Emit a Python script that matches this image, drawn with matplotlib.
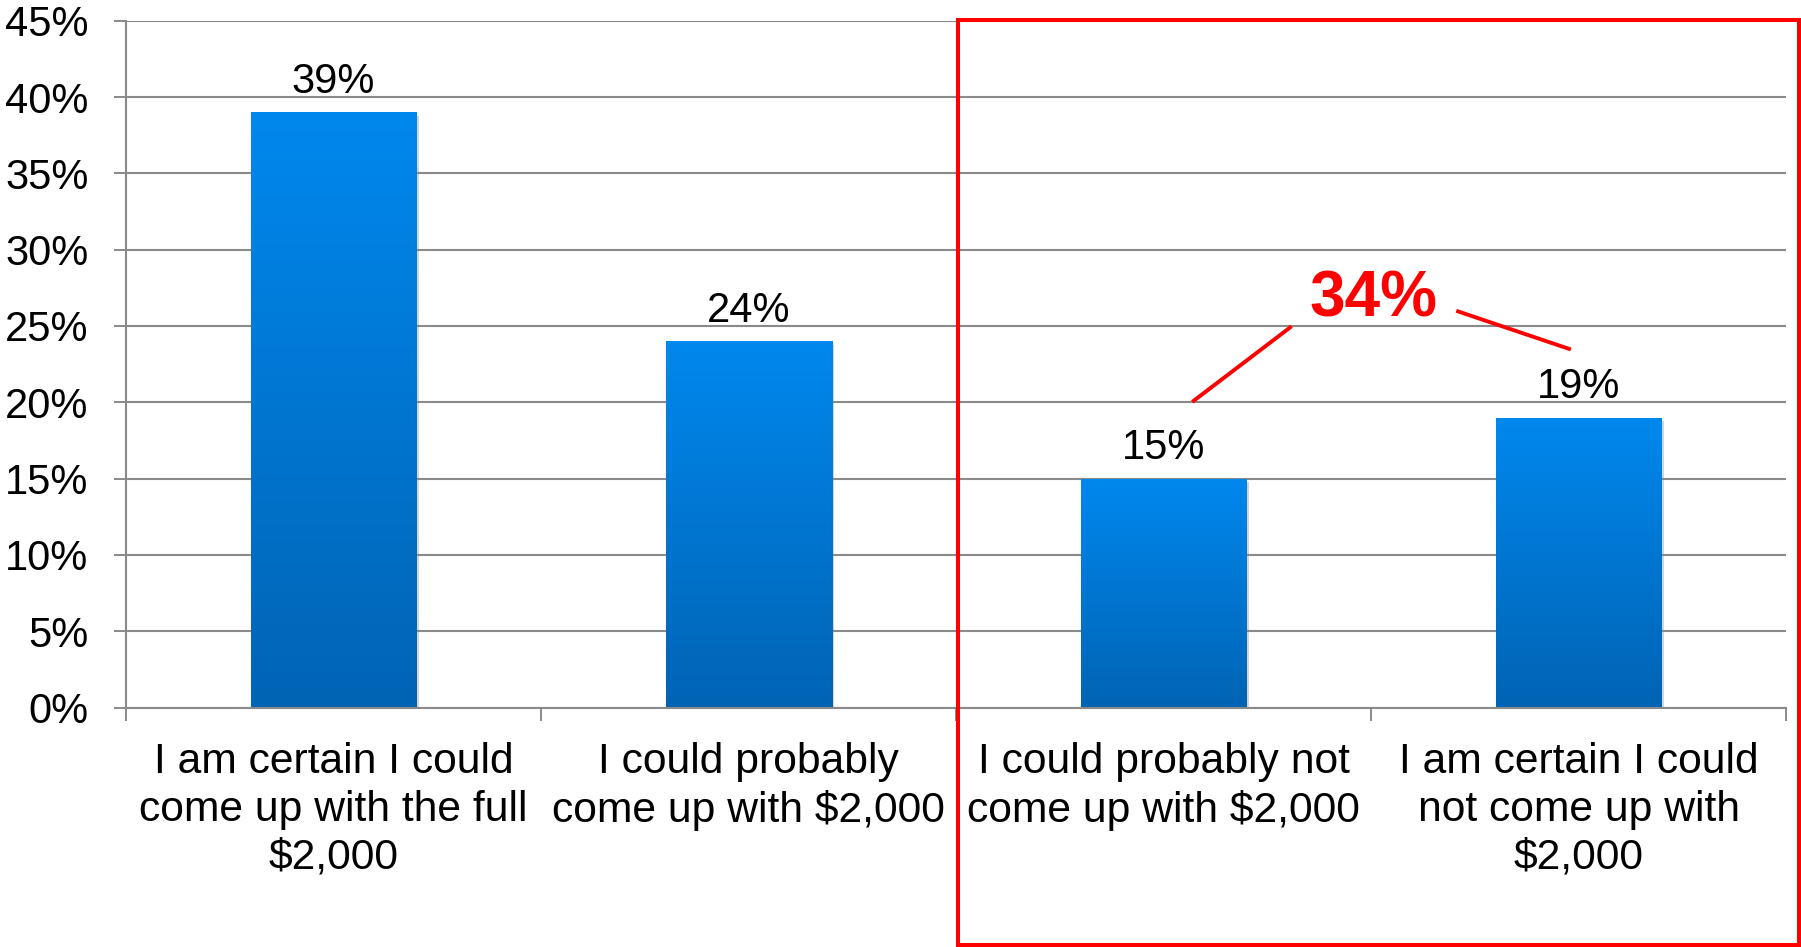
import matplotlib
matplotlib.use("Agg")
import matplotlib.pyplot as plt
import matplotlib.patches as patches
import matplotlib.patheffects as pe
from matplotlib.colors import LinearSegmentedColormap
import numpy as np

# data
categories = [
    "I am certain I could\ncome up with the full\n$2,000",
    "I could probably\ncome up with $2,000",
    "I could probably not\ncome up with $2,000",
    "I am certain I could\nnot come up with\n$2,000",
]
values = [39, 24, 15, 19]
yticks = [0, 5, 10, 15, 20, 25, 30, 35, 40, 45]

plt.rcParams['font.family'] = ['Liberation Sans', 'DejaVu Sans']

GRAY = '#8a8a8a'
fig = plt.figure(figsize=(18.01, 9.47), dpi=100)
ax = fig.add_axes([126 / 1801, 1 - 707.5 / 947, 1660 / 1801, 686.8 / 947])

x = np.arange(len(values))
bars = ax.bar(x, values, width=0.4, color='#0077d4', zorder=2,
              path_effects=[pe.SimplePatchShadow(offset=(1.5, -2.5), shadow_rgbFace='#888888', alpha=0.35),
                            pe.Normal()])

# vertical gradient inside each bar
cmap = LinearSegmentedColormap.from_list('barblue', ['#0064b4', '#0088ee'])
grad = np.linspace(0, 1, 256).reshape(-1, 1)
for b in bars:
    x0, y0, w, h = b.get_x(), b.get_y(), b.get_width(), b.get_height()
    im = ax.imshow(grad, cmap=cmap, origin='lower', aspect='auto',
                   extent=(x0, x0 + w, y0, y0 + h), zorder=3)
    im.set_clip_path(b)

for xi, v in zip(x, values):
    ax.annotate(f"{v}%", (xi, v), xytext=(0, 14), textcoords='offset points',
                ha='center', va='baseline', fontsize=30, color='black', zorder=4)

ax.set_xlim(-0.5, len(values) - 0.5)
ax.set_ylim(0, 45)
ax.set_yticks(yticks)
ax.set_yticklabels([f"{t}%" for t in yticks], fontsize=30)
ax.yaxis.grid(True, color=GRAY, linewidth=1.5)
ax.set_axisbelow(True)

ax.set_xticks(np.arange(len(values) + 1) - 0.5)
ax.set_xticklabels([])
ax.set_xticks(x, minor=True)
ax.set_xticklabels(categories, minor=True, fontsize=30.7, linespacing=1.25)
ax.tick_params(axis='x', which='major', length=9.5, width=1.4, color=GRAY, direction='out')
ax.tick_params(axis='x', which='minor', length=0, pad=25)
ax.tick_params(axis='y', length=9, width=1.4, color=GRAY, pad=18)

for s in ['top', 'right']:
    ax.spines[s].set_visible(False)
for s in ['left', 'bottom']:
    ax.spines[s].set_color(GRAY)
    ax.spines[s].set_linewidth(1.5)

# highlight of the two "could not" answers
total = values[2] + values[3]
ax.text(2.505, 26.7, f"{total}%", ha='center', va='center', fontsize=46,
        fontweight='bold', color='#ff0000', zorder=5)
ax.plot([2.073, 2.305], [20.1, 24.9], color='#ff0000', linewidth=2.8, zorder=5, clip_on=False)
ax.plot([2.71, 2.977], [25.95, 23.5], color='#ff0000', linewidth=2.8, zorder=5, clip_on=False)

rect = patches.Rectangle((958 / 1801, 2 / 947), 841 / 1801, 925 / 947,
                         transform=fig.transFigure, fill=False, edgecolor='#ff0000',
                         linewidth=2.9, clip_on=False)
fig.patches.append(rect)

fig.savefig("out.png", dpi=100)
